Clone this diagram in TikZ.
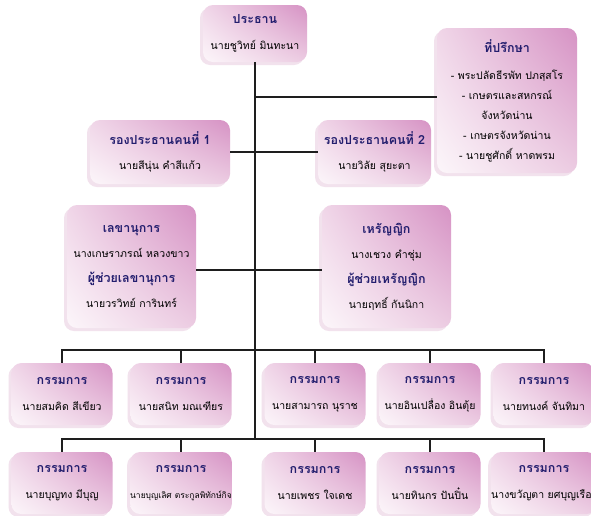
\documentclass[tikz,border=0pt]{standalone}
\usepackage{fontspec}
\newfontfamily\thai[Script=Thai]{Loma}
\usetikzlibrary{shadings,shadows}
\definecolor{navy}{RGB}{35,30,110}
\definecolor{pkLL}{RGB}{252,246,250}
\definecolor{pkUL}{RGB}{240,214,232}
\definecolor{pkLR}{RGB}{236,204,226}
\definecolor{pkUR}{RGB}{214,146,196}
\definecolor{pkSh}{RGB}{242,226,237}
\definecolor{linec}{RGB}{30,30,30}
\newcommand\ttl[1]{{\color{navy}\bfseries\fontsize{12.5}{20}\selectfont #1}}
\begin{document}
\begin{tikzpicture}[x=1pt,y=-1pt,
  box/.style={rounded corners=10pt, lower left=pkLL, upper left=pkUL,
    upper right=pkUR, lower right=pkLR,
    drop shadow={shadow xshift=-3pt, shadow yshift=-3pt, fill=pkSh, opacity=1},
    align=center, inner sep=0pt, font=\thai\fontsize{10.5}{20}\selectfont},
  conn/.style={draw=linec, line width=1.7pt}]
\clip (0,0) rectangle (591,515);
\fill[white] (0,0) rectangle (591,515);
% boxes
\node[box, minimum width=104pt, minimum height=57pt] (pres) at (255,33.5)
  {\ttl{ประธาน}\\[6pt] นายชูวิทย์ มินทะนา};
\node[box, minimum width=140pt, minimum height=145pt] (adv) at (507,100.5)
  {\ttl{ที่ปรึกษา}\\[7pt] - พระปลัดธีรพัท ปภสฺสโร\\ - เกษตรและสหกรณ์\\ จังหวัดน่าน\\ - เกษตรจังหวัดน่าน\\ - นายชูศักดิ์ หาดพรม};
\node[box, minimum width=140pt, minimum height=64pt] (vpa) at (160,152)
  {\ttl{รองประธานคนที่ 1}\\[5pt] นายสีนุ่น คำสีแก้ว};
\node[box, minimum width=113pt, minimum height=64pt] (vpb) at (374.5,152)
  {\ttl{รองประธานคนที่ 2}\\[5pt] นายวิลัย สุยะตา};
\node[box, minimum width=129pt, minimum height=123pt] (sec) at (131.5,266.5)
  {\ttl{เลขานุการ}\\[5pt] นางเกษราภรณ์ หลวงขาว\\[5pt] \ttl{ผู้ช่วยเลขานุการ}\\[5pt] นายวรวิทย์ การินทร์};
\node[box, minimum width=129pt, minimum height=123pt] (tre) at (386.5,266.5)
  {\ttl{เหรัญญิก}\\[5pt] นางเชวง คำชุ่ม\\[5pt] \ttl{ผู้ช่วยเหรัญญิก}\\[5pt] นายฤทธิ์ กันนิกา};
% row 1
\foreach \n/\x/\nm in {ra/62/{นายสมคิด สีเขียว}, rb/181/{นายสนิท มณเฑียร}, rc/315/{นายสามารถ นุราช}, rd/430/{นายอินเปลื่อง อินตุ้ย}, re/544/{นายทนงค์ จันทิมา}}
  \node[box, minimum width=101pt, minimum height=62pt] (\n) at (\x,394) {\ttl{กรรมการ}\\[6pt] \nm};
% row 2
\foreach \n/\x/\nm in {sa/62/{นายบุญทง มีบุญ}, sb/181/{\fontsize{8.5}{20}\selectfont นายบุญเลิศ ตระกูลพิทักษ์กิจ}, sc/315/{นายเพชร ใจเดช}, sd/430/{นายทินกร ปันปิ๋น}, se/544/{นางขวัญตา ยศบุญเรือง}}
  \node[box, minimum width=101pt, minimum height=62pt] (\n) at (\x,483) {\ttl{กรรมการ}\\[6pt] \nm};
% connectors
\coordinate (b1) at (255,350);
\coordinate (b2) at (255,439);
\coordinate (ja) at (255,97);
\draw[conn] (pres.south) -- (b2);
\draw[conn] (ja) -- (ja -| adv.west);
\draw[conn] (vpa.east) -- (vpb.west);
\draw[conn] (sec.east |- 0,270) -- (tre.west |- 0,270);
\draw[conn] (ra.north) -- (ra.north |- b1) -- (re.north |- b1) -- (re.north);
\draw[conn] (rb.north) -- (rb.north |- b1);
\draw[conn] (rc.north) -- (rc.north |- b1);
\draw[conn] (rd.north) -- (rd.north |- b1);
\draw[conn] (sa.north) -- (sa.north |- b2) -- (se.north |- b2) -- (se.north);
\draw[conn] (sb.north) -- (sb.north |- b2);
\draw[conn] (sc.north) -- (sc.north |- b2);
\draw[conn] (sd.north) -- (sd.north |- b2);
\end{tikzpicture}
\end{document}
